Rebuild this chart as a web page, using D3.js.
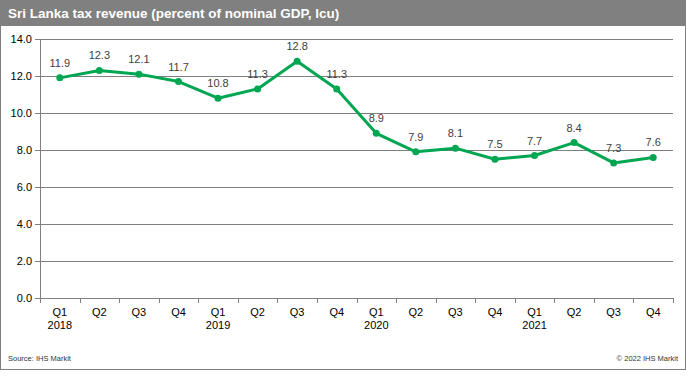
<!DOCTYPE html>
<html>
<head>
<meta charset="utf-8">
<script src="https://cdn.jsdelivr.net/npm/d3@7"></script>
<style>
  body { margin: 0; background: #fff; }
  svg { display: block; font-family: "Liberation Sans", Arial, sans-serif; }
</style>
</head>
<body>
<div id="chart"></div>
<script>
(function(){

const width = 686;
const height = 376;
const margin = {top:39, right:13, bottom:78, left:40};

const quarters = ["Q1","Q2","Q3","Q4","Q1","Q2","Q3","Q4","Q1","Q2","Q3","Q4","Q1","Q2","Q3","Q4"];
const years = ["2018","","","","2019","","","","2020","","","","2021","","",""];
const values = [11.9, 12.3, 12.1, 11.7, 10.8, 11.3, 12.8, 11.3, 8.9, 7.9, 8.1, 7.5, 7.7, 8.4, 7.3, 7.6];
const yTicks = [0, 2, 4, 6, 8, 10, 12, 14];

const data = values.map((v,i) => ({i:i, q:quarters[i], yr:years[i], v:v}));

const svg = d3.select("#chart")
  .append("svg")
  .attr("width", width)
  .attr("height", height);

// frame + title bar
svg.append("rect")
  .attr("x", 0.5).attr("y", 0.5)
  .attr("width", width - 1).attr("height", 369)
  .attr("fill", "#fff")
  .attr("stroke", "#808080");

svg.append("rect")
  .attr("x", 0).attr("y", 0)
  .attr("width", width).attr("height", 26)
  .attr("fill", "#808080");

svg.append("text")
  .attr("x", 8).attr("y", 18)
  .attr("fill", "#fff")
  .style("font-size", "13.5px")
  .style("font-weight", "bold")
  .text("Sri Lanka tax revenue (percent of nominal GDP, lcu)");

// X scale
const x = d3.scaleBand()
  .domain(data.map(d => d.i))
  .range([margin.left, width - margin.right]);

// Y scale
const y = d3.scaleLinear()
  .domain([0, 14])
  .range([298, margin.top]);

// grid lines
svg.append("g")
  .selectAll("line")
  .data(yTicks)
  .enter()
  .append("line")
  .attr("x1", margin.left - 5)
  .attr("x2", width - margin.right)
  .attr("y1", d => Math.round(y(d)) + 0.5)
  .attr("y2", d => Math.round(y(d)) + 0.5)
  .attr("stroke", "#808080");

// y axis line
svg.append("line")
  .attr("x1", margin.left + 0.5).attr("x2", margin.left + 0.5)
  .attr("y1", y(14)).attr("y2", y(0))
  .attr("stroke", "#808080");

// y tick labels
svg.append("g")
  .selectAll("text")
  .data(yTicks)
  .enter()
  .append("text")
  .attr("x", margin.left - 8)
  .attr("y", d => y(d) + 4)
  .attr("text-anchor", "end")
  .attr("fill", "#000")
  .style("font-size", "11px")
  .text(d => d.toFixed(1));

// x ticks
svg.append("g")
  .selectAll("line")
  .data(d3.range(17))
  .enter()
  .append("line")
  .attr("x1", d => Math.round(margin.left + d * x.bandwidth()) + 0.5)
  .attr("x2", d => Math.round(margin.left + d * x.bandwidth()) + 0.5)
  .attr("y1", y(0))
  .attr("y2", y(0) + 5)
  .attr("stroke", "#808080");

const xl = svg.append("g")
  .selectAll("g")
  .data(data)
  .enter()
  .append("g")
  .attr("transform", d => `translate(${x(d.i) + x.bandwidth()/2},0)`);

xl.append("text")
  .attr("y", 316)
  .attr("text-anchor", "middle")
  .style("font-size", "11px")
  .text(d => d.q);

xl.append("text")
  .attr("y", 329)
  .attr("text-anchor", "middle")
  .style("font-size", "11px")
  .text(d => d.yr);

// line
const line = d3.line()
  .x(d => x(d.i) + x.bandwidth()/2)
  .y(d => y(d.v));

svg.append("path")
  .datum(data)
  .attr("fill", "none")
  .attr("stroke", "#00a651")
  .attr("stroke-width", 3)
  .attr("stroke-linejoin", "round")
  .attr("d", line);

svg.selectAll(".dot")
  .data(data)
  .enter()
  .append("circle")
  .attr("class", "dot")
  .attr("cx", d => x(d.i) + x.bandwidth()/2)
  .attr("cy", d => y(d.v))
  .attr("r", 3.5)
  .attr("fill", "#00a651");

// value labels
svg.selectAll(".label")
  .data(data)
  .enter()
  .append("text")
  .attr("class", "label")
  .attr("x", d => x(d.i) + x.bandwidth()/2)
  .attr("y", d => y(d.v) - 11)
  .attr("text-anchor", "middle")
  .attr("fill", "#404040")
  .style("font-size", "11px")
  .text(d => d.v.toFixed(1));

// footer
svg.append("text")
  .attr("x", 8).attr("y", 361)
  .attr("fill", "#333")
  .style("font-size", "7.5px")
  .text("Source:  IHS Markit");

svg.append("text")
  .attr("x", 678).attr("y", 361)
  .attr("text-anchor", "end")
  .attr("fill", "#333")
  .style("font-size", "7.5px")
  .text("© 2022  IHS Markit");

})();
</script>
</body>
</html>
